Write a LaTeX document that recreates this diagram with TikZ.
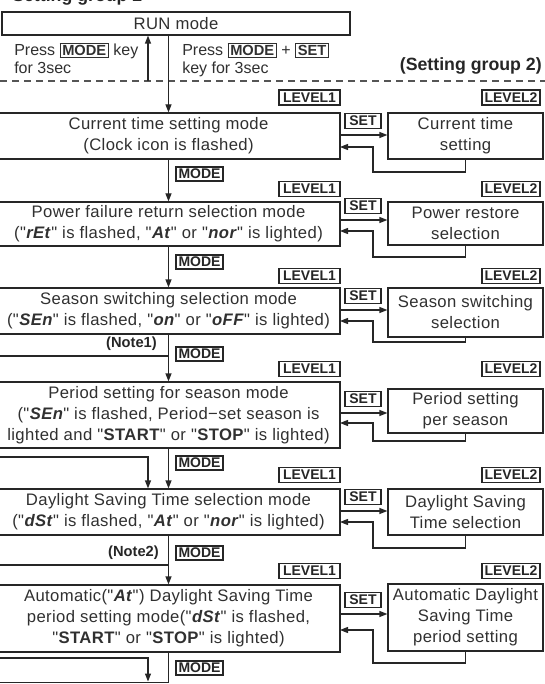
\documentclass[tikz,border=0pt]{standalone}
\usepackage{fontspec}
\setmainfont{Liberation Sans}[Ligatures=TeXOff]
\usetikzlibrary{arrows.meta}
\definecolor{ink}{HTML}{262626}
\definecolor{txt}{HTML}{303030}
\definecolor{dashgray}{HTML}{555555}
\newcommand{\seg}[1]{\textbf{\textit{#1}}}
\newcommand{\keyb}[1]{{\setlength{\fboxsep}{1.2pt}\setlength{\fboxrule}{0.8pt}\fbox{\bfseries\fontsize{11}{11}\selectfont #1}}}
\tikzset{
  lbox/.style={draw=ink, line width=0.9pt, align=center, inner sep=0pt, text=txt,
    minimum width=257.25pt, font=\fontsize{12.5}{15.7}\selectfont\addfontfeatures{LetterSpace=2.3}},
  rbox/.style={draw=ink, line width=0.9pt, align=center, inner sep=0pt, text=txt,
    minimum width=116.25pt, font=\fontsize{12.5}{15.7}\selectfont\addfontfeatures{LetterSpace=2.3}},
  tag/.style={draw=ink, line width=0.9pt, inner sep=0pt, text=ink,
    minimum height=11.25pt, font=\bfseries\fontsize{10.5}{10.5}\selectfont},
  modetag/.style={tag, minimum width=35.25pt, minimum height=10.5pt},
  lvone/.style={tag, minimum width=45.75pt},
  lvtwo/.style={tag, minimum width=43.5pt},
  settag/.style={tag, minimum width=27pt},
  plain/.style={text=txt, inner sep=0pt, font=\fontsize{12}{13.5}\selectfont},
  notetxt/.style={text=ink, inner sep=0pt, anchor=east, font=\bfseries\fontsize{11}{11}\selectfont},
  flow/.style={draw=ink, line width=0.9pt, -{Triangle[length=6pt,width=4.5pt]}},
  wire/.style={draw=ink, line width=0.9pt},
}
\begin{document}
\begin{tikzpicture}[x=0.75pt, y=-0.75pt]
\useasboundingbox (0,0) rectangle (545,684);

% cropped title (only its lower part shows)
\node[anchor=base west, inner sep=0pt, text=ink, font=\bfseries\fontsize{13.3}{14}\selectfont] (title) at (12,2) {Setting group 2};

% RUN mode
\node[draw=ink, line width=0.9pt, inner sep=0pt, text=txt, minimum width=261pt, minimum height=17.25pt,
  font=\fontsize{12.5}{15}\selectfont\addfontfeatures{LetterSpace=2.3}] (run) at (176,23.5) {RUN mode};

\node[plain, anchor=base west] (p1a) at (14,55.5) {Press \keyb{MODE} key};
\node[plain, anchor=base west] (p1b) at (14,73.5) {for 3sec};
\node[plain, anchor=base west] (p2a) at (182,55.5) {Press \keyb{MODE} + \keyb{SET}};
\node[plain, anchor=base west] (p2b) at (182,73.5) {key for 3sec};

\node[anchor=base east, inner sep=0pt, text=ink, font=\bfseries\fontsize{13.3}{14}\selectfont] (sg) at (542,71) {(Setting group 2)};

% dashed separator
\coordinate (dl) at (0,81);
\coordinate (dr) at (545,81);
\draw[draw=dashgray, line width=0.8pt, dash pattern=on 5.25pt off 3.75pt] (dl) -- (dr);

% level-1 boxes
\node[lbox, minimum height=34.5pt] (c1) at (168.5,136) {Current time setting mode\\(Clock icon is flashed)};
\node[lbox, minimum height=33pt] (c2) at (168.5,224) {Power failure return selection mode\\("\seg{rEt}" is flashed, "\seg{At}" or "\seg{nor}" is lighted)};
\node[lbox, minimum height=34.5pt] (c3) at (168.5,311) {Season switching selection mode\\("\seg{SEn}" is flashed, "\seg{on}" or "\seg{oFF}" is lighted)};
\node[lbox, minimum height=49.5pt] (c4) at (168.5,415) {Period setting for season mode\\("\seg{SEn}" is flashed, Period−set season is\\lighted and "\textbf{START}" or "\textbf{STOP}" is lighted)};
\node[lbox, minimum height=34.5pt] (c5) at (168.5,512) {Daylight Saving Time selection mode\\("\seg{dSt}" is flashed, "\seg{At}" or "\seg{nor}" is lighted)};
\node[lbox, minimum height=50.25pt] (c6) at (168.5,618.5) {Automatic("\seg{At}") Daylight Saving Time\\period setting mode("\seg{dSt}" is flashed,\\"\textbf{START}" or "\textbf{STOP}" is lighted)};

% level-2 boxes
\node[rbox, minimum height=34.5pt] (r1) at (465.5,136) {Current time\\setting};
\node[rbox, minimum height=32.25pt] (r2) at (465.5,223.5) {Power restore\\selection};
\node[rbox, minimum height=36.75pt] (r3) at (465.5,312.5) {Season switching\\selection};
\node[rbox, minimum height=33pt] (r4) at (465.5,411) {Period setting\\per season};
\node[rbox, minimum height=34.5pt] (r5) at (465.5,512) {Daylight Saving\\Time selection};
\node[rbox, minimum height=50.25pt] (r6) at (465.5,617.5) {Automatic Daylight\\Saving Time\\period setting};

% LEVEL tags
\foreach \i/\y in {1/97.5, 2/189, 3/276, 4/369, 5/475, 6/571} {
  \node[lvone] (lva\i) at (309.5,\y) {LEVEL1};
  \node[lvtwo] (lvb\i) at (511,\y) {LEVEL2};
}
% MODE tags
\foreach \i/\y in {1/174, 2/262, 3/354, 4/463, 5/553, 6/668} {
  \node[modetag] (md\i) at (199.5,\y) {MODE};
}
% SET tags
\foreach \i/\y in {1/121, 2/206, 3/296, 4/399, 5/497, 6/600} {
  \node[settag] (st\i) at (363,\y) {SET};
}

% RUN <-> group 2
\coordinate (up) at (148,81);
\draw[flow] (up) -- (up |- run.south);
\draw[flow] (c1.north |- run.south) -- (c1.north);

% MODE flow
\draw[flow] (c1.south) -- (c2.north);
\draw[flow] (c2.south) -- (c3.north);
\draw[flow] (c3.south) -- (c4.north);
\draw[flow] (c4.south) -- (c5.north);
\draw[flow] (c5.south) -- (c6.north);

% SET forward / return loops
\foreach \i/\f/\r/\b in {1/135/147/172, 2/220/231/257, 3/310/321/342, 4/413/423/441, 5/511/522/548, 6/614/630/663} {
  \coordinate (f\i) at (340,\f);
  \coordinate (k\i) at (340,\r);
  \coordinate (b\i) at (373,\b);
  \draw[flow] (f\i) -- (f\i -| r\i.west);
  \draw[flow] (r\i.south) |- (b\i) |- (k\i);
}

% Note 1 branch
\node[notetxt] (n1) at (157,344) {(Note1)};
\coordinate (n1a) at (168.5,356);
\coordinate (n1b) at (0,356);
\draw[wire] (n1a) -- (n1b);
\coordinate (j1) at (0,457);
\draw[flow] (j1) -| (c5.north -| up);

% Note 2 branch
\node[notetxt] (n2) at (159,553) {(Note2)};
\coordinate (n2a) at (168.5,565);
\coordinate (n2b) at (0,565);
\draw[wire] (n2a) -- (n2b);

% bottom
\coordinate (j2) at (0,658);
\coordinate (e2) at (148,681.5);
\draw[flow] (j2) -| (e2);
\coordinate (bot) at (0,682.5);
\draw[wire] (c6.south) |- (bot);
\end{tikzpicture}
\end{document}
